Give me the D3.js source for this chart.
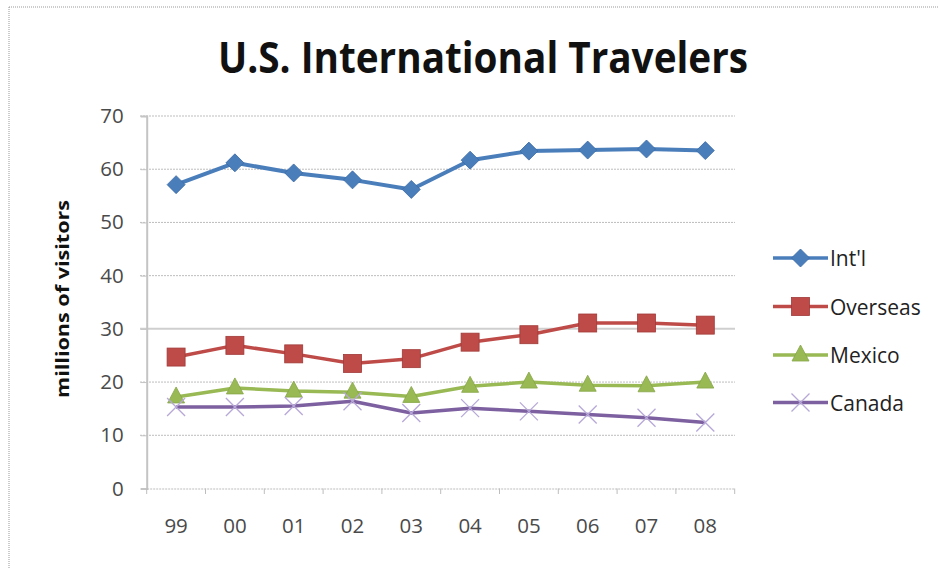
<!DOCTYPE html>
<html><head><meta charset="utf-8">
<script src="https://cdn.jsdelivr.net/npm/d3@7"></script>
<style>body{margin:0;background:#fff}svg{display:block}</style>
</head><body>
<script>
const categories = ["99","00","01","02","03","04","05","06","07","08"];
const intl     = [57.1,61.2,59.3,58.0,56.2,61.7,63.4,63.6,63.8,63.5];
const overseas = [24.7,26.9,25.3,23.5,24.4,27.5,28.9,31.1,31.1,30.7];
const mexico   = [17.2,18.9,18.3,18.1,17.3,19.2,20.0,19.4,19.3,20.0];
const canada   = [15.3,15.3,15.5,16.4,14.2,15.1,14.5,13.9,13.3,12.4];
const seriesNames = ["Int'l","Overseas","Mexico","Canada"];
const yTicks = [0,10,20,30,40,50,60,70];

const W=938,H=568;
const svg=d3.select("body").append("svg").attr("width",W).attr("height",H);
svg.append("rect").attr("width",W).attr("height",H).attr("fill","#fff");
// outer dotted border
svg.append("line").attr("x1",9).attr("x2",W).attr("y1",7).attr("y2",7).attr("stroke","#999").attr("stroke-dasharray","1,1");
svg.append("line").attr("x1",9).attr("x2",9).attr("y1",7).attr("y2",H).attr("stroke","#999").attr("stroke-dasharray","1,1");

const x=d3.scaleBand().domain(categories).range([146.7,734.7]);
const y=d3.scaleLinear().domain([0,70]).range([488.5,116]);

// gridlines
svg.append("g").selectAll("line").data(yTicks.filter(t=>t>0)).join("line")
  .attr("x1",140).attr("x2",735).attr("y1",d=>y(d)).attr("y2",d=>y(d))
  .attr("stroke",d=>d===30?"#cfcfcf":"#bdbdbd")
  .attr("stroke-width",d=>d===30?2:1)
  .attr("stroke-dasharray",d=>d===30?null:"2,1");

// y axis
const yAxis=svg.append("g").attr("transform","translate(146.7,0)")
  .call(d3.axisLeft(y).tickValues(yTicks).tickSize(6).tickPadding(17).tickFormat(d3.format("d")));
yAxis.select(".domain").attr("stroke","#c4c4c4").attr("stroke-width",2);
yAxis.selectAll(".tick line").attr("stroke","#c4c4c4");
yAxis.selectAll("text").attr("font-family","'Open Sans',sans-serif").attr("font-size",20.5).attr("fill","#4a4a4a");

// x axis
const xAxis=svg.append("g").attr("transform","translate(0,488.5)")
  .call(d3.axisBottom(x).tickSize(0).tickPadding(30));
xAxis.select(".domain").attr("stroke","#bdbdbd").attr("stroke-dasharray","2,1");
xAxis.selectAll("text").attr("font-family","'Open Sans',sans-serif").attr("font-size",20.5).attr("fill","#4a4a4a");
svg.append("g").selectAll("line").data(categories.concat(["end"])).join("line")
  .attr("x1",(d,i)=>146.7+i*x.step()).attr("x2",(d,i)=>146.7+i*x.step())
  .attr("y1",488.5).attr("y2",494).attr("stroke","#bdbdbd");

// title
svg.append("text").attr("x",483).attr("y",72.5).attr("text-anchor","middle")
  .attr("font-family","'Open Sans',sans-serif").attr("font-weight","bold").attr("font-size",43)
  .attr("textLength",530).attr("lengthAdjust","spacingAndGlyphs").attr("fill","#111")
  .text("U.S. International Travelers");

// y label
svg.append("text").attr("transform","translate(69,299) rotate(-90)").attr("text-anchor","middle")
  .attr("font-family","'Open Sans',sans-serif").attr("font-weight","bold").attr("font-size",17)
  .attr("textLength",198).attr("lengthAdjust","spacingAndGlyphs").attr("fill","#111")
  .text("millions of visitors");

const colors=["#4a7ebb","#be4b48","#98b954","#7d60a0"];
const data=[intl,overseas,mexico,canada];
const markerTypes=["diamond","square","triangle","x"];

function drawMarker(g,type,cx,cy,color){
  if(type==="diamond"){
    g.append("path").attr("d",`M${cx},${cy-9}L${cx+9},${cy}L${cx},${cy+9}L${cx-9},${cy}Z`).attr("fill",color).attr("stroke","#3a6aa5").attr("stroke-width",0.8);
  } else if(type==="square"){
    g.append("rect").attr("x",cx-9).attr("y",cy-9).attr("width",18).attr("height",18).attr("fill",color).attr("stroke","#a03a38").attr("stroke-width",0.8);
  } else if(type==="triangle"){
    g.append("path").attr("d",`M${cx},${cy-10}L${cx+8.5},${cy+6}L${cx-8.5},${cy+6}Z`).attr("fill",color).attr("stroke","#86a648").attr("stroke-width",0.8);
  } else {
    g.append("path").attr("d",`M${cx-9},${cy-9}L${cx+9},${cy+9}M${cx+9},${cy-9}L${cx-9},${cy+9}`).attr("stroke","#b7a8d8").attr("stroke-width",1.3).attr("fill","none");
  }
}

const line=d3.line().x((d,i)=>x(categories[i])+x.bandwidth()/2).y(d=>y(d));
data.forEach((vals,si)=>{
  const g=svg.append("g");
  g.append("path").attr("d",line(vals)).attr("fill","none").attr("stroke",colors[si]).attr("stroke-width",si===0?4:3.5).attr("stroke-linejoin","round");
  vals.forEach((v,i)=>drawMarker(g,markerTypes[si],x(categories[i])+x.bandwidth()/2,y(v),colors[si]));
});

// legend
const legY=[258,306.5,355,402.5];
seriesNames.forEach((n,i)=>{
  const g=svg.append("g");
  g.append("line").attr("x1",773).attr("x2",828).attr("y1",legY[i]).attr("y2",legY[i]).attr("stroke",colors[i]).attr("stroke-width",3.5);
  drawMarker(g,markerTypes[i],800.5,legY[i],colors[i]);
  g.append("text").attr("x",830).attr("y",legY[i]+8).attr("font-family","'Open Sans',sans-serif").attr("font-size",21).attr("fill","#222").text(n);
});
</script>
</body></html>
